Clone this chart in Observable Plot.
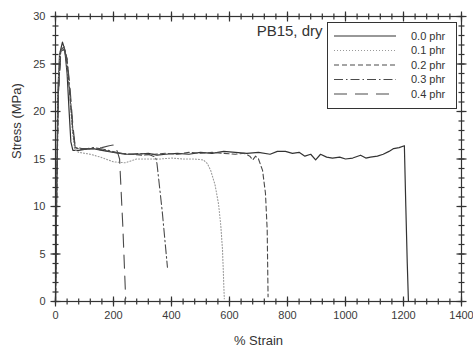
<!DOCTYPE html>
<html>
<head>
<meta charset="utf-8">
<script src="https://cdn.jsdelivr.net/npm/d3@7"></script>
<script src="https://cdn.jsdelivr.net/npm/@observablehq/plot@0.6"></script>
<style>
  html, body { margin: 0; padding: 0; background: #fff; }
  #chart { position: relative; width: 473px; height: 348px; }
</style>
</head>
<body>
<div id="chart"></div>
<script>
// ---- data (strain %, stress MPa) ----
const s00 = [[0,0],[4,12],[8,22],[14,26],[24,27.3],[32,26.5],[40,24],[47,20],[53,16.8],[60,15.9],[80,15.9],[100,16.0],[130,16.1],[160,15.9],[200,15.7],[240,15.5],[280,15.5],[320,15.6],[350,15.4],[380,15.5],[420,15.6],[460,15.5],[500,15.7],[540,15.6],[580,15.8],[620,15.7],[660,15.6],[700,15.7],[740,15.5],[765,15.8],[793,15.8],[817,15.6],[840,15.7],[860,15.3],[880,15.5],[897,14.9],[914,15.5],[935,15.2],[955,15.1],[980,15.2],[1000,15.0],[1025,15.1],[1052,15.4],[1070,15.1],[1086,15.2],[1110,15.3],[1130,15.5],[1150,15.8],[1166,16.1],[1185,16.2],[1203,16.4],[1208,10],[1213,4],[1217,0]];
const s01 = [[0,0],[4,12],[8,22],[16,26.3],[28,26.8],[38,25.5],[48,22],[58,18],[66,16],[80,15.7],[120,15.5],[155,15.2],[200,14.7],[240,14.6],[280,15.0],[320,15.0],[360,15.0],[400,15.1],[440,15.0],[480,15.0],[510,14.9],[524,14.5],[535,13.8],[550,12.3],[562,10.3],[570,8],[576,5.4],[580,2],[582,0.3]];
const s02 = [[0,0],[5,13],[10,22],[18,26.3],[30,26.6],[40,25],[50,21.5],[60,18],[68,16.2],[90,16.0],[130,16.1],[170,15.9],[220,15.6],[260,15.5],[300,15.4],[340,15.5],[380,15.6],[420,15.5],[460,15.7],[500,15.6],[540,15.7],[580,15.6],[620,15.5],[650,15.6],[670,15.3],[680,14.9],[690,15.3],[700,15.0],[714,13.8],[724,11.4],[730,7.5],[733,0.5]];
const s03 = [[0,0],[5,13],[10,22],[18,26.5],[30,26.8],[40,25.5],[50,22],[60,18],[68,16.2],[90,16.0],[130,16.2],[170,16.0],[210,15.7],[250,15.5],[290,15.6],[320,15.5],[345,15.2],[350,14.5],[368,9.5],[386,3.6]];
const s04 = [[0,0],[5,13],[10,22],[18,26],[30,26.6],[40,25.5],[50,22.5],[60,18.5],[68,16.3],[90,16.1],[130,16.1],[160,16.2],[185,16.4],[205,16.5],[214,15.7],[221,15.0],[232,8],[242,0.3]];

const seriesNames = ["0.0 phr", "0.1 phr", "0.2 phr", "0.3 phr", "0.4 phr"];
const seriesData = [s00, s01, s02, s03, s04];
const seriesStroke = ["#333", "#9a9a9a", "#4a4a4a", "#4a4a4a", "#4a4a4a"];
const seriesDash = [null, "1,2", "5,3", "9,3,1.5,3", "13,8"];
const seriesWidth = [1.2, 1.1, 1.1, 1.1, 1.1];

const xTicks = [0, 200, 400, 600, 800, 1000, 1200, 1400];
const yTicks = [0, 5, 10, 15, 20, 25, 30];
const xMinor = [0,40,80,120,160,200,240,280,320,360,400,440,480,520,560,600,640,680,720,760,800,840,880,920,960,1000,1040,1080,1120,1160,1200,1240,1280,1320,1360,1400];
const yMinor = [0,1,2,3,4,5,6,7,8,9,10,11,12,13,14,15,16,17,18,19,20,21,22,23,24,25,26,27,28,29,30];

const font = "'Liberation Sans', Arial, Helvetica, sans-serif";
const axisColor = "#333";
const W = 473, H = 348, mL = 55, mR = 12, mT = 16, mB = 47;
const major = 5, minor = 3;

const lineMarks = seriesData.map((d, i) => Plot.line(d, {
  x: p => p[0], y: p => p[1],
  stroke: seriesStroke[i], strokeWidth: seriesWidth[i],
  strokeDasharray: seriesDash[i], curve: "linear"
}));

const chart = Plot.plot({
  width: W, height: H,
  marginLeft: mL, marginRight: mR, marginTop: mT, marginBottom: mB,
  style: { fontFamily: font, fontSize: "11px", color: "#333", background: "transparent", overflow: "visible" },
  x: { domain: [0, 1400] },
  y: { domain: [0, 30] },
  marks: [
    ...lineMarks,
    Plot.frame({ stroke: axisColor, strokeWidth: 1.2 }),
    Plot.axisX({ anchor: "bottom", ticks: xTicks, tickSize: 0, tickPadding: 10, tickFormat: d => String(d),
      fill: "#3a3a3a", fontSize: 11, label: null }),
    Plot.axisY({ anchor: "left", ticks: yTicks, tickSize: 0, tickPadding: 10, tickFormat: d => String(d),
      fill: "#3a3a3a", fontSize: 11, label: null }),
    Plot.text(["% Strain"], { frameAnchor: "bottom", dy: 39, lineAnchor: "middle", fontSize: 13, fill: "#333" }),
    Plot.text(["Stress (MPa)"], { frameAnchor: "left", dx: -39, rotate: -90, lineAnchor: "middle", fontSize: 13, fill: "#333" }),
    Plot.text(["PB15, dry"], { frameAnchor: "top-right", dx: -139, dy: 9, textAnchor: "end", lineAnchor: "top",
      fontSize: 15, fill: "#333" })
  ]
});

document.getElementById("chart").appendChild(chart);

// ---- tick marks crossing every frame edge, positioned through Plot's own scales ----
const sx = chart.scale("x"), sy = chart.scale("y");
const X = d3.scaleLinear().domain(sx.domain).range(sx.range);
const Y = d3.scaleLinear().domain(sy.domain).range(sy.range);
const xr = [d3.min(sx.range), d3.max(sx.range)];
const yr = [d3.min(sy.range), d3.max(sy.range)];
const svgNS = "http://www.w3.org/2000/svg";
const tg = document.createElementNS(svgNS, "g");
function addLine(a, b, c, d) {
  const l = document.createElementNS(svgNS, "line");
  l.setAttribute("x1", a); l.setAttribute("y1", b); l.setAttribute("x2", c); l.setAttribute("y2", d);
  l.setAttribute("stroke", axisColor); l.setAttribute("stroke-width", "1.2");
  tg.appendChild(l);
}
for (const [vals, len] of [[xMinor, minor], [xTicks, major]]) {
  for (const v of vals) {
    const px = X(v) + 0.5;
    for (const yy of yr) addLine(px, yy + 0.5 - len, px, yy + 0.5 + len);
  }
}
for (const [vals, len] of [[yMinor, minor], [yTicks, major]]) {
  for (const v of vals) {
    const py = Y(v) + 0.5;
    for (const xx of xr) addLine(xx + 0.5 - len, py, xx + 0.5 + len, py);
  }
}
chart.appendChild(tg);

// ---- legend ----
const lg = { x: 327, y: 22, w: 129, h: 86, lineX1: 334, lineX2: 396, textX: 411, row0: 36, rowStep: 14.5 };
const g = d3.select(chart).append("g").attr("font-family", font).attr("text-anchor", "start");
g.append("rect").attr("x", lg.x + 0.5).attr("y", lg.y + 0.5).attr("width", lg.w).attr("height", lg.h)
  .attr("fill", "white").attr("stroke", axisColor).attr("stroke-width", 1);
seriesNames.forEach((name, i) => {
  const yy = lg.row0 + i * lg.rowStep;
  g.append("line").attr("x1", lg.lineX1).attr("x2", lg.lineX2).attr("y1", yy).attr("y2", yy)
    .attr("stroke", seriesStroke[i]).attr("stroke-width", seriesWidth[i])
    .attr("stroke-dasharray", seriesDash[i]);
  g.append("text").attr("x", lg.textX).attr("y", yy).attr("dy", "0.35em")
    .attr("font-size", 11).attr("fill", "#333").text(name);
});
</script>
</body>
</html>
